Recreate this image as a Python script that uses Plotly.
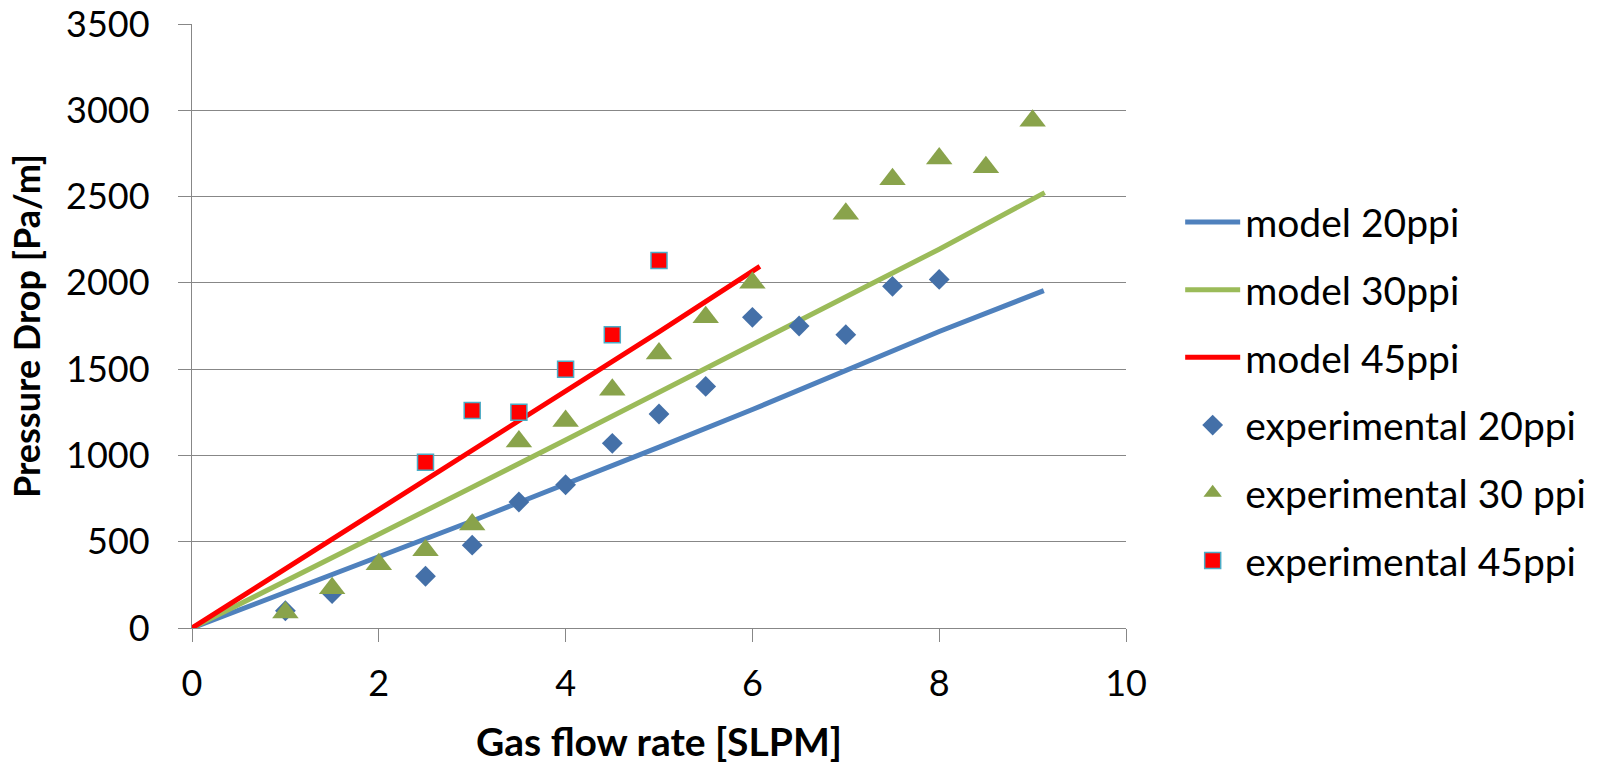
import plotly.graph_objects as go

# Model curves (pressure drop vs gas flow rate)
model_x_20 = [0, 1, 2, 3, 3.5, 4, 4.5, 5, 6, 7, 8, 9.12]
model_y_20 = [0, 205, 412, 620, 727, 832, 940, 1048, 1266, 1490, 1718, 1955]

model_x_30 = [0, 1, 2, 3, 4, 5, 6, 7, 8, 9.13]
model_y_30 = [0, 270, 542, 815, 1090, 1365, 1640, 1915, 2195, 2523]

model_x_45 = [0, 1, 2, 3, 4, 5, 6.08]
model_y_45 = [0, 342, 684, 1026, 1370, 1716, 2095]

# Experimental measurements
exp_x_20 = [1, 1.5, 2.5, 3, 3.5, 4, 4.5, 5, 5.5, 6, 6.5, 7, 7.5, 8]
exp_y_20 = [100, 200, 300, 480, 730, 830, 1070, 1240, 1400, 1800, 1750, 1700, 1980, 2020]

exp_x_30 = [1, 1.5, 2, 2.5, 3, 3.5, 4, 4.5, 5, 5.5, 6, 7, 7.5, 8, 8.5, 9]
exp_y_30 = [90, 230, 370, 450, 600, 1080, 1200, 1380, 1590, 1800, 2000, 2400, 2600, 2720, 2670, 2940]

exp_x_45 = [2.5, 3, 3.5, 4, 4.5, 5]
exp_y_45 = [960, 1260, 1250, 1500, 1700, 2130]

x_ticks = [0, 2, 4, 6, 8, 10]
y_ticks = [0, 500, 1000, 1500, 2000, 2500, 3000, 3500]

FONT = "Lato"
GRID = "#878787"

fig = go.Figure()

for name, xs, ys, color in [
    ("model 20ppi", model_x_20, model_y_20, "#4F81BD"),
    ("model 30ppi", model_x_30, model_y_30, "#9BBB59"),
    ("model 45ppi", model_x_45, model_y_45, "#FF0000"),
]:
    fig.add_trace(go.Scatter(
        x=xs, y=ys, mode="lines", name=name, legendgroup=name,
        line=dict(color=color, width=5),
    ))

fig.add_trace(go.Scatter(
    x=exp_x_20, y=exp_y_20, mode="markers", name="experimental 20ppi",
    legendgroup="e20",
    marker=dict(symbol="diamond", size=16, color="#4470A8", line=dict(width=0)),
))
fig.add_trace(go.Scatter(
    x=exp_x_30, y=exp_y_30, mode="markers", name="experimental 30 ppi",
    legendgroup="e30",
    marker=dict(symbol="triangle-up", size=23, color="#89A34B", line=dict(width=0)),
))
fig.add_trace(go.Scatter(
    x=exp_x_45, y=exp_y_45, mode="markers", name="experimental 45ppi",
    legendgroup="e45",
    marker=dict(symbol="square", size=16, color="#FF0000",
                line=dict(width=1.5, color="#4BACC6")),
))

fig.update_layout(
    width=1610, height=764,
    margin=dict(l=191.5, r=484.3, t=24, b=135.7),
    paper_bgcolor="white", plot_bgcolor="white",
    font=dict(family=FONT, size=36, color="black"),
    showlegend=True,
    legend=dict(
        x=1.058, xanchor="left", y=0.725, yanchor="top",
        font=dict(family=FONT, size=39, color="black"),
        tracegroupgap=14, itemwidth=55, bgcolor="rgba(0,0,0,0)",
    ),
    xaxis=dict(
        range=[0, 10], tickvals=x_ticks, ticktext=[str(v) for v in x_ticks],
        showgrid=False, zeroline=False, automargin=False,
        showline=True, linecolor=GRID, linewidth=1.3,
        ticks="outside", ticklen=13, tickcolor=GRID, tickwidth=1.3,
        ticklabelstandoff=11,
        title=dict(text="<b>Gas flow rate [SLPM]</b>", standoff=29,
                   font=dict(family=FONT, size=39, color="black")),
    ),
    yaxis=dict(
        range=[0, 3500], tickvals=y_ticks, ticktext=[str(v) for v in y_ticks],
        showgrid=True, gridcolor=GRID, gridwidth=1.3, zeroline=False,
        automargin=False,
        showline=True, linecolor=GRID, linewidth=1.3,
        ticks="outside", ticklen=13, tickcolor=GRID, tickwidth=1.3,
        ticklabelstandoff=21,
        title=dict(text="<b>Pressure Drop [Pa/m]</b>", standoff=14,
                   font=dict(family=FONT, size=36, color="black")),
    ),
)

fig.write_html("out.html")
